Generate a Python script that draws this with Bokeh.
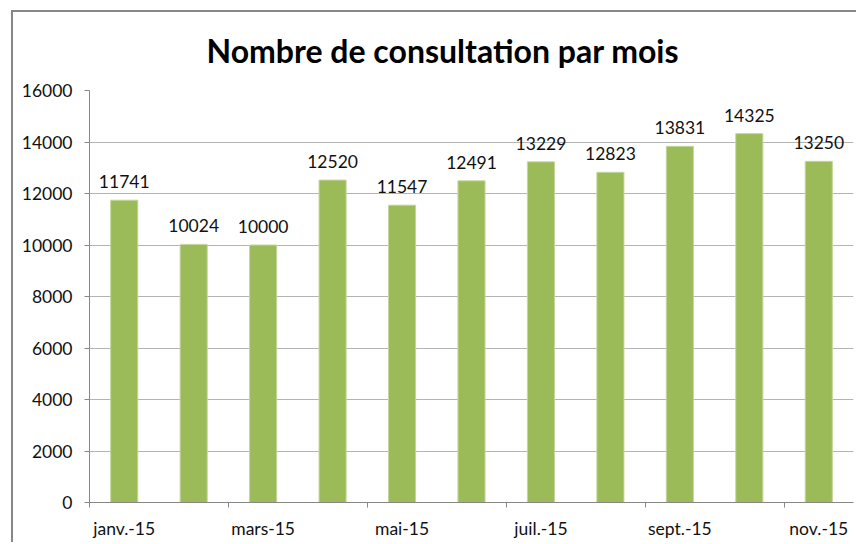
from bokeh.plotting import figure
from bokeh.models import FixedTicker, ColumnDataSource, Range1d
from bokeh.core.properties import value
from bokeh.embed import file_html
from bokeh.resources import INLINE

months = ["janv.-15", "févr.-15", "mars-15", "avr.-15", "mai-15", "juin-15",
          "juil.-15", "août-15", "sept.-15", "oct.-15", "nov.-15"]
consultations = [11741, 10024, 10000, 12520, 11547, 12491, 13229, 12823, 13831, 14325, 13250]
y_ticks = [0, 2000, 4000, 6000, 8000, 10000, 12000, 14000, 16000]
title_text = "Nombre de consultation par mois"

xpos = [i + 0.5 for i in range(len(months))]
src = ColumnDataSource(dict(x=xpos, y=consultations, lab=[str(v) for v in consultations]))

FONT = "Lato"
p = figure(width=845, height=532, output_backend="svg", toolbar_location=None,
           x_range=Range1d(0, len(months)), y_range=Range1d(0, 16000),
           min_border_left=76, min_border_right=5, min_border_top=78, min_border_bottom=42,
           styles={"margin-left": "11px", "margin-top": "10px",
                   "border-left": "2px solid #878787", "border-top": "2px solid #878787"})
p.outline_line_color = None
p.background_fill_color = "white"
p.border_fill_color = "white"

p.title.text = title_text
p.title.text_font = FONT
p.title.text_font_size = "32px"
p.title.text_font_style = "bold"
p.title.text_color = "black"
p.title.align = "left"
p.title.offset = 117
p.title.vertical_align = "top"
p.title.text_line_height = 0.9
p.title.standoff = 37

p.vbar(x="x", top="y", width=0.39, bottom=0, source=src,
       fill_color="#9BBB59", line_color="#C3D69B", line_width=1)
p.text(x="x", y="y", text="lab", source=src, text_align="center", text_baseline="bottom",
       y_offset=-12, text_font=value(FONT), text_font_size="17.5px", text_color="#111111")

# x axis: labels at odd centres, ticks on every second boundary
label_pos = [xpos[i] for i in range(0, len(months), 2)]
p.xaxis.ticker = FixedTicker(ticks=label_pos, minor_ticks=[float(i) for i in range(0, len(months), 2)])
p.xaxis.major_label_overrides = {xpos[i]: months[i] for i in range(0, len(months), 2)}
p.xaxis.major_tick_out = 0
p.xaxis.major_tick_in = 0
p.xaxis.minor_tick_out = 5
p.xaxis.minor_tick_in = 0
p.xaxis.minor_tick_line_color = "#878787"
p.xaxis.axis_line_color = "#878787"
p.xaxis.major_label_standoff = 10
p.xaxis.major_label_text_font = FONT
p.xaxis.major_label_text_font_size = "17.5px"
p.xaxis.major_label_text_color = "#111111"

p.yaxis.ticker = FixedTicker(ticks=y_ticks)
p.yaxis.minor_tick_line_color = None
p.yaxis.major_tick_out = 5
p.yaxis.major_tick_in = 0
p.yaxis.major_tick_line_color = "#878787"
p.yaxis.axis_line_color = "#878787"
p.yaxis.major_label_standoff = 12
p.yaxis.major_label_text_font = FONT
p.yaxis.major_label_text_font_size = "17.5px"
p.yaxis.major_label_text_color = "#111111"

p.xgrid.grid_line_color = None
p.ygrid.grid_line_color = "#B4B4B4"
p.ygrid.ticker = FixedTicker(ticks=y_ticks)

open("out.html", "w").write(file_html(p, INLINE))
